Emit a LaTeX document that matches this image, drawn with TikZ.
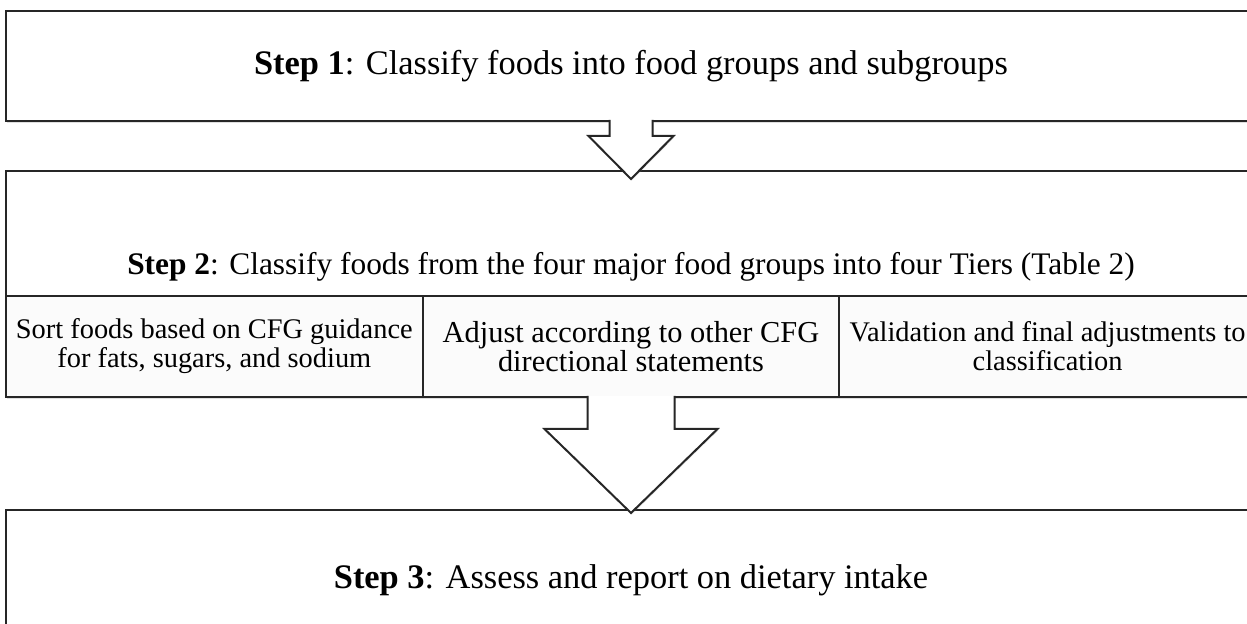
\documentclass[tikz,border=0pt]{standalone}
\usepackage{fontspec}
\setmainfont{Liberation Serif}
\usetikzlibrary{positioning,calc,shadows}

\begin{document}
\begin{tikzpicture}[x=1pt,y=1pt]
  \definecolor{edge}{HTML}{262626}
  \definecolor{subfill}{HTML}{FBFBFB}
  \newcommand{\stepfont}{\fontsize{17.2}{20}\selectfont}
  \newcommand{\titlefont}{\fontsize{15.7}{18}\selectfont}
  \newcommand{\subfont}{\fontsize{14.2}{14.5}\selectfont}
  \newcommand{\boxsep}{25pt}
  \newcommand{\blockarrow}[5]{
    \draw[blockarrow] ($(#1.south)+(-#2,0.6)$) -- ($(#1.south)+(-#2,-#4)$)
      -- ($(#1.south)+(-#3,-#4)$) -- ($(#1.south)+(0,-#5)$)
      -- ($(#1.south)+(#3,-#4)$) -- ($(#1.south)+(#2,-#4)$) -- ($(#1.south)+(#2,0.6)$);
  }
  \tikzset{
    stepbox/.style    = {rectangle, draw=edge, line width=1pt, fill=white, minimum width=625pt,
                         inner sep=0pt, outer sep=0pt, font=\stepfont,
                         drop shadow={shadow xshift=0.6pt, shadow yshift=-1.2pt, opacity=0.25, fill=gray}},
    subbox/.style     = {rectangle, draw=edge, line width=0.9pt, fill=subfill, minimum width=208.33pt,
                         minimum height=50.5pt, inner sep=0pt, outer sep=0pt, align=center, font=\subfont},
    blockarrow/.style = {draw=edge, line width=1pt, fill=white, line join=miter,
                         drop shadow={shadow xshift=0.4pt, shadow yshift=-0.8pt, opacity=0.2, fill=gray}}
  }

  \useasboundingbox (0,0) rectangle (623.5,-312);
  \clip (0,0) rectangle (623.5,-312);

  \node [stepbox, minimum height=55pt] (step1) at (315.5,-33)
        {\textbf{Step 1}: Classify foods into food groups and subgroups};
  \node [stepbox, minimum height=113pt, below=\boxsep of step1] (step2) {};
  \node [subbox, anchor=south west] (sort) at (step2.south west)
        {Sort foods based on CFG guidance\\for fats, sugars, and sodium};
  \node [subbox, right=0pt of sort, font=\fontsize{15.2}{14.5}\selectfont] (adjust)
        {Adjust according to other CFG\\directional statements};
  \node [subbox, right=0pt of adjust] (valid)
        {Validation and final adjustments to\\classification};
  \node [font=\titlefont] (step2title) at ($(adjust.north)+(0,14.5)$)
        {\textbf{Step 2}: Classify foods from the four major food groups into four Tiers (Table 2)};
  \node [stepbox, minimum height=70pt, below=56.5pt of step2] (step3)
        {\textbf{Step 3}: Assess and report on dietary intake};

  \blockarrow{step1}{10.75}{21.25}{7.5}{29}
  \blockarrow{step2}{21.75}{43.25}{16}{58}
\end{tikzpicture}
\end{document}
